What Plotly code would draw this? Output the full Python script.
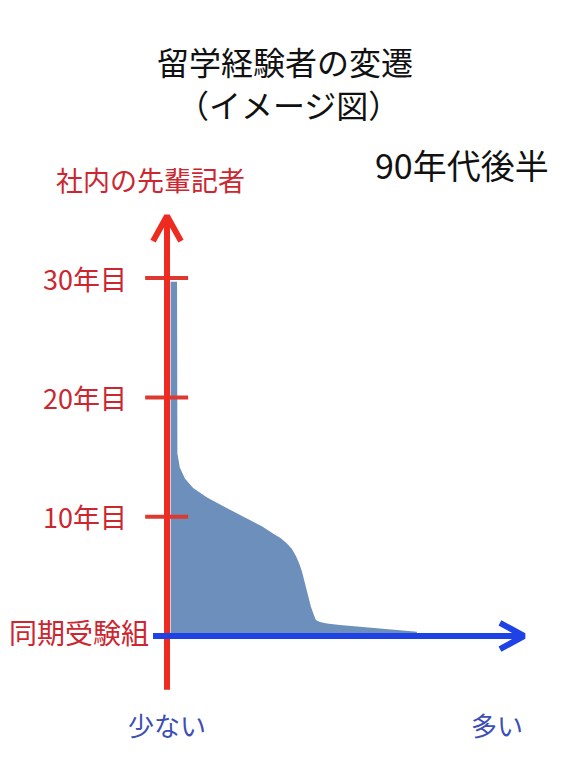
import plotly.graph_objects as go

# ---- data ----
tick_values = [10, 20, 30]
tick_labels = ["10年目", "20年目", "30年目"]

# share of staff with study-abroad experience (image chart)
experience_x = [1.0, 1.0, 2.8, 2.9, 3.6, 5.0, 7.3, 11.2, 16.8, 23.2, 26.5, 29.6,
                31.8, 33.5, 34.9, 36.0, 36.9, 37.7, 38.5, 39.4, 40.2, 41.1,
                41.6, 42.7, 44.7, 48.3, 55.9, 69.8, 69.8]
years_y = [0, 29.7, 29.7, 15.3, 14.1, 13.2, 12.4, 11.6, 10.7, 9.7, 9.2, 8.6,
           8.2, 7.75, 7.3, 6.7, 6.1, 5.4, 4.45, 3.45, 2.45, 1.7,
           1.35, 1.17, 1.05, 0.92, 0.7, 0.35, 0]

title_lines = ["留学経験者の変遷", "（イメージ図）"]
period_label = "90年代後半"
y_axis_title = "社内の先輩記者"
origin_label = "同期受験組"
x_low_label = "少ない"
x_high_label = "多い"

W, H = 567, 759
X_RANGE = [-46.65, 111.73]
Y_RANGE = [-10.31, 53.31]

RED = "#ee2b20"
RED_TEXT = "#cc2630"
BLUE = "#1e42e4"
BLUE_TEXT = "#3d4fb3"
FILL = "#6d8fbc"
FONT = "Noto Sans CJK JP"

fig = go.Figure()

# filled area
fig.add_trace(go.Scatter(
    x=experience_x, y=years_y, mode="lines", fill="toself",
    fillcolor=FILL, line=dict(width=0, color=FILL), hoverinfo="skip",
))

# tick marks on the red axis
for v in tick_values:
    fig.add_trace(go.Scatter(
        x=[-6.1, 5.9], y=[v, v], mode="lines",
        line=dict(color="#dc3a30", width=4), hoverinfo="skip",
    ))

# red vertical axis with arrow head
fig.add_trace(go.Scatter(
    x=[0, 0], y=[-4.5, 35.0], mode="lines",
    line=dict(color=RED, width=6), hoverinfo="skip",
))
fig.add_trace(go.Scatter(
    x=[-3.9, 0, 3.9], y=[33.1, 35.2, 33.1], mode="lines",
    line=dict(color=RED, width=6), hoverinfo="skip",
))

# blue horizontal axis with arrow head
fig.add_trace(go.Scatter(
    x=[-3.9, 99.5], y=[0, 0], mode="lines",
    line=dict(color=BLUE, width=6), hoverinfo="skip",
))
fig.add_trace(go.Scatter(
    x=[93.0, 99.7, 93.0], y=[1.1, 0, -1.1], mode="lines",
    line=dict(color=BLUE, width=6), hoverinfo="skip",
))


def px(xp):
    return xp / W


def py(yp):
    return 1 - yp / H


ann = []
ann.append(dict(text=title_lines[0], x=px(285), y=py(61), xref="paper", yref="paper",
                showarrow=False, font=dict(family=FONT, size=32, color="#111111"),
                xanchor="center", yanchor="middle"))
ann.append(dict(text=title_lines[1], x=px(288), y=py(104), xref="paper", yref="paper",
                showarrow=False, font=dict(family=FONT, size=32, color="#111111"),
                xanchor="center", yanchor="middle"))
ann.append(dict(text=period_label, x=px(462), y=py(165), xref="paper", yref="paper",
                showarrow=False, font=dict(family=FONT, size=34, color="#111111"),
                xanchor="center", yanchor="middle"))
ann.append(dict(text=y_axis_title, x=px(150), y=py(180), xref="paper", yref="paper",
                showarrow=False, font=dict(family=FONT, size=27, color=RED_TEXT),
                xanchor="center", yanchor="middle"))
for v, lab in zip(tick_values, tick_labels):
    ann.append(dict(text=lab, x=px(129), y=v, xref="paper", yref="y",
                    showarrow=False, font=dict(family=FONT, size=27, color=RED_TEXT),
                    xanchor="right", yanchor="middle"))
ann.append(dict(text=origin_label, x=px(151), y=0.3, xref="paper", yref="y",
                showarrow=False, font=dict(family=FONT, size=28, color=RED_TEXT),
                xanchor="right", yanchor="middle"))
ann.append(dict(text=x_low_label, x=0, y=py(724), xref="x", yref="paper",
                showarrow=False, font=dict(family=FONT, size=26, color=BLUE_TEXT),
                xanchor="center", yanchor="middle"))
ann.append(dict(text=x_high_label, x=px(497), y=py(724), xref="paper", yref="paper",
                showarrow=False, font=dict(family=FONT, size=26, color=BLUE_TEXT),
                xanchor="center", yanchor="middle"))

fig.update_layout(
    width=W, height=H, autosize=False,
    margin=dict(l=0, r=0, t=0, b=0),
    paper_bgcolor="white", plot_bgcolor="white",
    showlegend=False,
    xaxis=dict(range=X_RANGE, visible=False, fixedrange=True),
    yaxis=dict(range=Y_RANGE, visible=False, fixedrange=True),
    annotations=ann,
)

fig.write_html("out.html", config={"displayModeBar": False})
